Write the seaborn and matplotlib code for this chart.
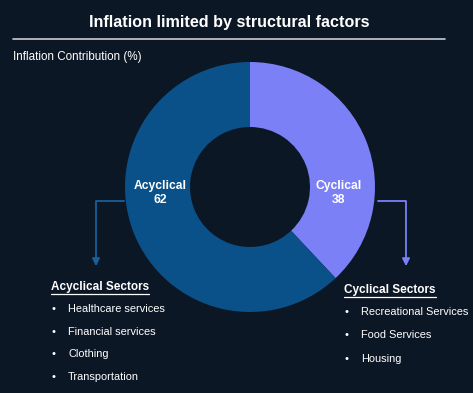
import matplotlib
matplotlib.use("Agg")
import matplotlib.pyplot as plt
import seaborn as sns

segments = ["Cyclical", "Acyclical"]
shares = [38, 62]
segment_colors = ["#7b80f7", "#0a5189"]

acyclical_items = ["Healthcare services", "Financial services", "Clothing", "Transportation"]
cyclical_items = ["Recreational Services", "Food Services", "Housing"]

title = "Inflation limited by structural factors"
subtitle = "Inflation Contribution (%)"

bg = "#0c1726"

sns.set_theme(style="white")
plt.rcParams["font.family"] = ["Liberation Sans", "DejaVu Sans"]

fig = plt.figure(figsize=(4.73, 3.93), dpi=100, facecolor=bg)
ax = fig.add_axes([0, 0, 1, 1])
ax.set_facecolor(bg)
ax.axis("off")

H = 393

# title and rule
ax.text(229, H - 22, title, color="white", fontsize=11.6, fontweight="bold", ha="center", va="center")
ax.plot([13, 445], [H - 39, H - 39], color="#c8ccd4", lw=1.2)
ax.text(13, H - 57, subtitle, color="white", fontsize=8.4, ha="left", va="center")

# donut
ax.pie(shares, colors=segment_colors, startangle=90, counterclock=False,
       center=(250, H - 187), radius=125,
       wedgeprops=dict(width=65, edgecolor="none"))
ax.set_xlim(0, 473)
ax.set_ylim(0, H)
ax.set_aspect("equal")

ax.text(160, H - 193, f"{segments[1]}\n{shares[1]}", color="white", fontsize=8.7,
        fontweight="bold", ha="center", va="center", linespacing=1.3)
ax.text(339, H - 193, f"{segments[0]}\n{shares[0]}", color="white", fontsize=8.7,
        fontweight="bold", ha="center", va="center", linespacing=1.3)

# connector arrows
ax.plot([124, 96, 96], [H - 201, H - 201, H - 262], color="#1a5f98", lw=1.3)
ax.annotate("", xy=(96, H - 269), xytext=(96, H - 258),
            arrowprops=dict(arrowstyle="-|>", color="#1a5f98", lw=1.3, mutation_scale=11))
ax.plot([378, 406, 406], [H - 201, H - 201, H - 262], color="#7b80f7", lw=1.3)
ax.annotate("", xy=(406, H - 269), xytext=(406, H - 258),
            arrowprops=dict(arrowstyle="-|>", color="#7b80f7", lw=1.3, mutation_scale=11))

# sector lists
def sector_list(x, y, head, items, step):
    t = ax.text(x, H - y, head, color="white", fontsize=8.5, fontweight="bold", ha="left", va="center")
    fig.canvas.draw()
    bb = t.get_window_extent().transformed(ax.transData.inverted())
    ax.plot([bb.x0, bb.x1], [bb.y0 - 0.5, bb.y0 - 0.5], color="white", lw=0.9)
    for i, item in enumerate(items):
        yy = H - (y + 22 + i * step)
        ax.text(x, yy, "\u2022", color="white", fontsize=8, ha="left", va="center")
        ax.text(x + 17, yy, item, color="white", fontsize=7.9, ha="left", va="center")

sector_list(51, 287, "Acyclical Sectors", acyclical_items, 22.7)
sector_list(344, 290, "Cyclical Sectors", cyclical_items, 23.5)

fig.savefig("out.png", dpi=100, facecolor=bg)
